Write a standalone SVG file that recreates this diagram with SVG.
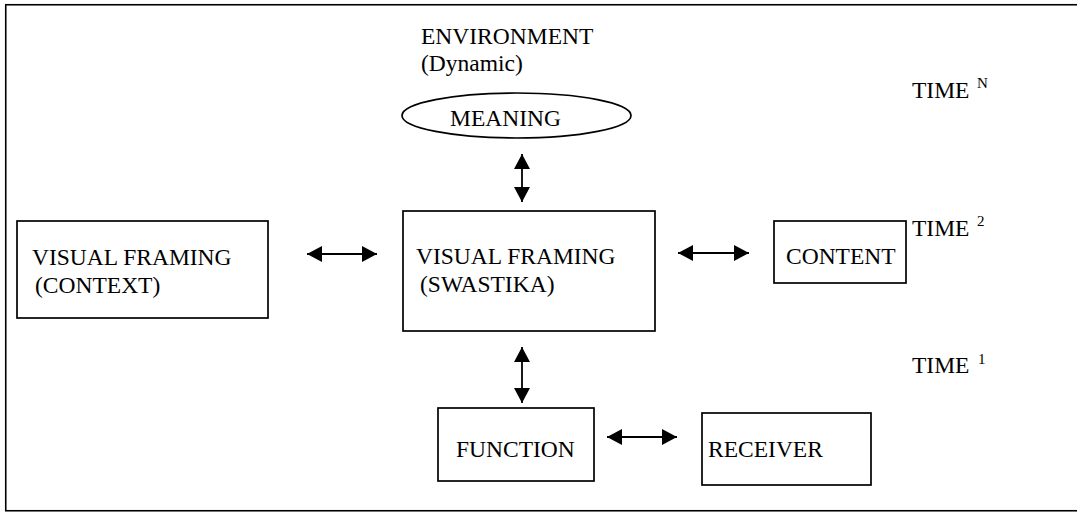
<svg xmlns="http://www.w3.org/2000/svg" width="1077" height="512" viewBox="0 0 1077 512">
  <style>
    .box { fill: #fff; stroke: #000; stroke-width: 1.7; }
    .t { font-family: "Liberation Serif", "Times New Roman", serif; font-size: 23.5px; fill: #000; }
    .sup { font-family: "Liberation Serif", "Times New Roman", serif; font-size: 15px; fill: #000; }
    .conn { stroke: #000; stroke-width: 1.8; fill: none; marker-start: url(#ah); marker-end: url(#ah); }
  </style>
  <defs>
    <marker id="ah" markerUnits="userSpaceOnUse" markerWidth="15" markerHeight="16" refX="15" refY="8" orient="auto-start-reverse">
      <path d="M0,0 L15,8 L0,16 Z" fill="#000"/>
    </marker>
  </defs>
  <rect x="0" y="0" width="1077" height="512" fill="#fff"/>
  <rect id="frame" x="5.75" y="4.75" width="1080" height="506" fill="none" stroke="#000" stroke-width="1.6"/>

  <g id="environment">
    <text class="t" x="421" y="44">ENVIRONMENT</text>
    <text class="t" x="421" y="71">(Dynamic)</text>
  </g>
  <g id="meaning">
    <ellipse class="box" cx="516.5" cy="115.5" rx="114.5" ry="22.5"/>
    <text class="t" x="450" y="126">MEANING</text>
  </g>
  <g id="context">
    <rect class="box" x="17" y="221" width="251" height="97"/>
    <text class="t" x="32" y="265">VISUAL FRAMING</text>
    <text class="t" x="35" y="293">(CONTEXT)</text>
  </g>
  <g id="swastika">
    <rect class="box" x="403" y="211" width="252" height="120"/>
    <text class="t" x="416" y="264">VISUAL FRAMING</text>
    <text class="t" x="420" y="292">(SWASTIKA)</text>
  </g>
  <g id="content">
    <rect class="box" x="774" y="221" width="132" height="62"/>
    <text class="t" x="786" y="264">CONTENT</text>
  </g>
  <g id="function">
    <rect class="box" x="438" y="408" width="156" height="73"/>
    <text class="t" x="456" y="457">FUNCTION</text>
  </g>
  <g id="receiver">
    <rect class="box" x="702" y="413" width="169" height="72"/>
    <text class="t" x="708" y="457">RECEIVER</text>
  </g>
  <g id="time-n">
    <text class="t" x="912" y="98">TIME</text>
    <text class="sup" x="977" y="88">N</text>
  </g>
  <g id="time-2">
    <text class="t" x="912" y="236">TIME</text>
    <text class="sup" x="977" y="226">2</text>
  </g>
  <g id="time-1">
    <text class="t" x="912" y="373">TIME</text>
    <text class="sup" x="978" y="364">1</text>
  </g>

  <g id="connectors">
    <line class="conn" x1="522" y1="154" x2="522" y2="202"/>
    <line class="conn" x1="307" y1="254" x2="377" y2="254"/>
    <line class="conn" x1="678" y1="253" x2="749" y2="253"/>
    <line class="conn" x1="522" y1="347" x2="522" y2="403"/>
    <line class="conn" x1="607" y1="437" x2="677" y2="437"/>
  </g>
</svg>
